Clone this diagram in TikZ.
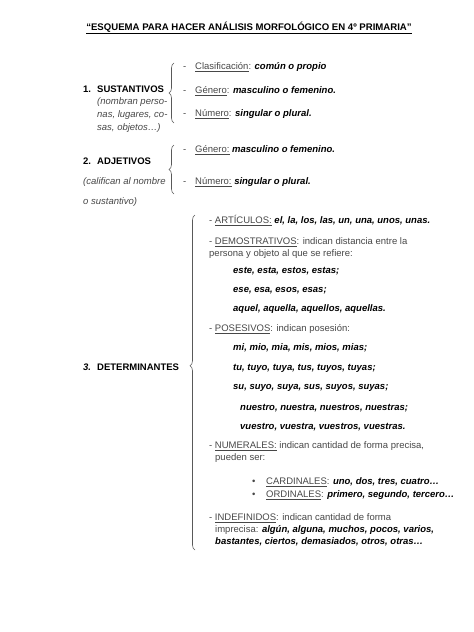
\documentclass[tikz,border=0pt]{standalone}
\usepackage{fontspec}
\setmainfont{Liberation Sans}
\usetikzlibrary{decorations.pathreplacing}
\definecolor{reg}{gray}{0.28}
\definecolor{bracecol}{gray}{0.35}
\newcommand{\bi}[1]{\textcolor{black}{\bfseries\itshape #1}}
\newcommand{\ul}[1]{\underline{#1}}
\begin{document}
\begin{tikzpicture}[x=1pt,y=-1pt,
  every node/.style={inner sep=0pt, anchor=base west, font=\fontsize{9.5}{10}\selectfont, text=reg},
  head/.style={text=black, font=\fontsize{9.5}{10}\selectfont\bfseries},
  note/.style={font=\fontsize{9.5}{10}\selectfont\itshape},
  words/.style={text=black, font=\fontsize{9.5}{10}\selectfont\bfseries\itshape},
  bracestyle/.style={draw=bracecol, line width=0.6pt, decorate, decoration={brace, amplitude=5pt}}]
\useasboundingbox (0,0) rectangle (474,632);

\node[anchor=base, text=black, font=\fontsize{9.6}{10}\selectfont\bfseries] (title) at (249,30)
  {\ul{“ESQUEMA PARA HACER ANÁLISIS MORFOLÓGICO EN 4º PRIMARIA”}};

% 1. Sustantivos
\node[head] (n1) at (83,92.5) {1.};
\node[head] (sust) at (97,92.5) {SUSTANTIVOS};
\node[note] (s1a) at (97,104.5) {(nombran perso-};
\node[note] (s1b) at (97,117.5) {nas, lugares, co-};
\node[note] (s1c) at (97,130.5) {sas, objetos…)};
\coordinate (b1top) at (174,63);
\coordinate (b1bot) at (174,123);
\draw[bracestyle] (b1bot) -- (b1top);
\node (d1a) at (183,69.5) {-};
\node (i1a) at (195,69.5) {\ul{Clasificación}: \bi{común o propio}};
\node (d1b) at (183,93.5) {-};
\node (i1b) at (195,93.5) {\ul{Género}: \bi{masculino o femenino.}};
\node (d1c) at (183,116.5) {-};
\node (i1c) at (195,116.5) {\ul{Número}: \bi{singular o plural.}};

% 2. Adjetivos
\node[head] (n2) at (83,164.5) {2.};
\node[head] (adj) at (97,164.5) {ADJETIVOS};
\node[note] (a1) at (83,184.5) {(califican al nombre};
\node[note] (a2) at (83,204.5) {o sustantivo)};
\coordinate (b2top) at (174,145);
\coordinate (b2bot) at (174,194);
\draw[bracestyle] (b2bot) -- (b2top);
\node (d2a) at (183,152.5) {-};
\node (i2a) at (195,152.5) {\ul{Género:} \bi{masculino o femenino.}};
\node (d2b) at (183,184.5) {-};
\node (i2b) at (195,184.5) {\ul{Número:} \bi{singular o plural.}};

% 3. Determinantes
\node[head, font=\fontsize{9.5}{10}\selectfont\bfseries\itshape] (n3) at (83,370.5) {3.};
\node[head] (det) at (97,370.5) {DETERMINANTES};
\coordinate (b3top) at (195,215);
\coordinate (b3bot) at (195,550);
\draw[bracestyle, decoration={brace, amplitude=5pt, aspect=0.55}] (b3bot) -- (b3top);

\node (art) at (209,223.5) {- \ul{ARTÍCULOS:} \bi{el, la, los, las, un, una, unos, unas.}};
\node (dem1) at (209,244.5) {- \ul{DEMOSTRATIVOS}: indican distancia entre la};
\node (dem2) at (209,256.5) {persona y objeto al que se refiere:};
\node[words] (dem3) at (233,273.5) {este, esta, estos, estas;};
\node[words] (dem4) at (233,292.5) {ese, esa, esos, esas;};
\node[words] (dem5) at (233,311.5) {aquel, aquella, aquellos, aquellas.};
\node (pos1) at (209,331.5) {- \ul{POSESIVOS}: indican posesión:};
\node[words] (pos2) at (233,350.5) {mi, mio, mia, mis, mios, mias;};
\node[words] (pos3) at (233,370.5) {tu, tuyo, tuya, tus, tuyos, tuyas;};
\node[words] (pos4) at (233,389.5) {su, suyo, suya, sus, suyos, suyas;};
\node[words] (pos5) at (240,410.5) {nuestro, nuestra, nuestros, nuestras;};
\node[words] (pos6) at (240,429.5) {vuestro, vuestra, vuestros, vuestras.};
\node (num1) at (209,448.5) {- \ul{NUMERALES:} indican cantidad de forma precisa,};
\node (num2) at (215,460.5) {pueden ser:};
\node (bul1) at (252,484.5) {•};
\node (card) at (266,484.5) {\ul{CARDINALES}: \bi{uno, dos, tres, cuatro…}};
\node (bul2) at (252,497.5) {•};
\node (ord) at (266,497.5) {\ul{ORDINALES}: \bi{primero, segundo, tercero…}};
\node (ind1) at (209,520.5) {- \ul{INDEFINIDOS}: indican cantidad de forma};
\node (ind2) at (215,532.5) {imprecisa: \bi{algún, alguna, muchos, pocos, varios,}};
\node[words] (ind3) at (215,544.5) {bastantes, ciertos, demasiados, otros, otras…};
\end{tikzpicture}
\end{document}
